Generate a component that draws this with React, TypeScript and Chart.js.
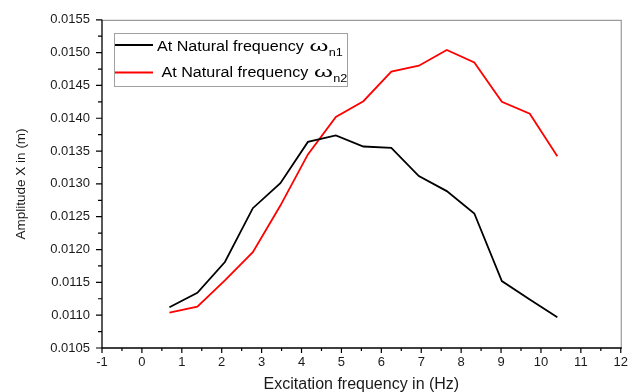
import React, { useEffect, useRef } from "react";
import { Chart, registerables } from "chart.js";

Chart.register(...registerables);

const frequencies = [0.69, 1.39, 2.08, 2.78, 3.47, 4.16, 4.86, 5.55, 6.25, 6.94, 7.64, 8.33, 9.02, 9.72, 10.41];
const amplitudeN1 = [0.01112, 0.01134, 0.01181, 0.01263, 0.01301, 0.01364, 0.01374, 0.01357, 0.01355, 0.01312, 0.01289, 0.01255, 0.01152, 0.01124, 0.01097];
const amplitudeN2 = [0.01104, 0.01113, 0.01153, 0.01196, 0.01267, 0.01345, 0.01402, 0.01426, 0.01471, 0.01480, 0.01504, 0.01485, 0.01425, 0.01407, 0.01342];
const seriesNames = ["At Natural frequency ", "At Natural frequency "];
const seriesSymbols = ["\u03c9", "\u03c9"];
const seriesSubscripts = ["n1", "n2"];
const seriesColors = ["#000000", "#ff0000"];
const xTickValues = [-1, 0, 1, 2, 3, 4, 5, 6, 7, 8, 9, 10, 11, 12];
const yTickValues = [0.0105, 0.011, 0.0115, 0.012, 0.0125, 0.013, 0.0135, 0.014, 0.0145, 0.015, 0.0155];
const xTitle = "Excitation frequency in (Hz)";
const yTitle = "Amplitude X in (m)";

const FONT = "'Liberation Sans', Arial, sans-serif";

const frameAndTicks = {
  id: "frameAndTicks",
  afterDraw(chart: any) {
    const ctx = chart.ctx;
    const { left, right, top, bottom } = chart.chartArea;
    const xs = chart.scales.x;
    const ys = chart.scales.y;
    ctx.save();
    ctx.strokeStyle = "#9a9a9a";
    ctx.lineWidth = 1.2;
    ctx.beginPath();
    ctx.moveTo(left, top + 0.5);
    ctx.lineTo(right + 0.5, top + 0.5);
    ctx.lineTo(right + 0.5, bottom);
    ctx.stroke();
    ctx.strokeStyle = "#000";
    ctx.lineWidth = 1.3;
    ctx.beginPath();
    ctx.moveTo(left, top);
    ctx.lineTo(left, bottom);
    ctx.lineTo(right + 1, bottom);
    ctx.stroke();
    ctx.lineWidth = 1.2;
    ctx.beginPath();
    for (let i = 0; i < xTickValues.length; i++) {
      const v = xTickValues[i];
      const px = xs.getPixelForValue(v);
      ctx.moveTo(px, bottom);
      ctx.lineTo(px, bottom + 5);
      if (i < xTickValues.length - 1) {
        const m = xs.getPixelForValue((v + xTickValues[i + 1]) / 2);
        ctx.moveTo(m, bottom);
        ctx.lineTo(m, bottom + 3);
      }
    }
    for (let i = 0; i < yTickValues.length; i++) {
      const v = yTickValues[i];
      const py = ys.getPixelForValue(v);
      ctx.moveTo(left, py);
      ctx.lineTo(left - 6, py);
      if (i < yTickValues.length - 1) {
        const m = ys.getPixelForValue((v + yTickValues[i + 1]) / 2);
        ctx.moveTo(left, m);
        ctx.lineTo(left - 4, m);
      }
    }
    ctx.stroke();
    ctx.restore();
  },
};

const subscriptLegend = {
  id: "subscriptLegend",
  afterDraw(chart: any) {
    const ctx = chart.ctx;
    ctx.save();
    const bx = 114, by = 33, bw = 233, bh = 53;
    ctx.strokeStyle = "#a0a0a0";
    ctx.lineWidth = 1;
    ctx.strokeRect(bx + 0.5, by + 0.5, bw, bh);
    const rows = [
      { lineY: 45, textX: 157, base: 51, subBase: 56 },
      { lineY: 72.5, textX: 161.5, base: 77, subBase: 82 },
    ];
    chart.data.datasets.forEach((ds: any, i: number) => {
      const r = rows[i];
      ctx.strokeStyle = ds.borderColor;
      ctx.lineWidth = 1.8;
      ctx.beginPath();
      ctx.moveTo(bx + 1, r.lineY);
      ctx.lineTo(bx + 39, r.lineY);
      ctx.stroke();
      ctx.fillStyle = "#000";
      ctx.textBaseline = "alphabetic";
      ctx.textAlign = "left";
      ctx.save();
      ctx.translate(r.textX, 0);
      ctx.scale(1.15, 1);
      ctx.font = `14px ${FONT}`;
      ctx.fillText(seriesNames[i], 0, r.base);
      const w = ctx.measureText(seriesNames[i]).width;
      ctx.save();
      ctx.translate(w + 1, 0);
      ctx.scale(1.5, 1);
      ctx.fillText(seriesSymbols[i], 0, r.base);
      const ow = ctx.measureText(seriesSymbols[i]).width * 1.5;
      ctx.restore();
      ctx.font = `11px ${FONT}`;
      ctx.fillText(seriesSubscripts[i], w + 1 + ow + 0.5, r.subBase);
      ctx.restore();
    });
    ctx.restore();
  },
};

export default function App() {
  const ref = useRef<HTMLCanvasElement>(null);
  useEffect(() => {
    if (!ref.current) return;
    const chart = new Chart(ref.current, {
      type: "line",
      data: {
        datasets: [
          {
            label: seriesNames[0] + seriesSymbols[0] + seriesSubscripts[0],
            data: frequencies.map((x, i) => ({ x, y: amplitudeN1[i] })),
            borderColor: seriesColors[0],
            backgroundColor: seriesColors[0],
            borderWidth: 1.8,
            pointRadius: 0,
            tension: 0,
          },
          {
            label: seriesNames[1] + seriesSymbols[1] + seriesSubscripts[1],
            data: frequencies.map((x, i) => ({ x, y: amplitudeN2[i] })),
            borderColor: seriesColors[1],
            backgroundColor: seriesColors[1],
            borderWidth: 1.8,
            pointRadius: 0,
            tension: 0,
          },
        ],
      },
      options: {
        animation: false,
        responsive: false,
        maintainAspectRatio: false,
        layout: { padding: { top: 18, right: 14, left: 0, bottom: 0 } },
        plugins: { legend: { display: false }, tooltip: { enabled: false } },
        scales: {
          x: {
            type: "linear",
            min: -1,
            max: 12,
            afterBuildTicks: (s: any) => {
              s.ticks = xTickValues.map((v) => ({ value: v }));
            },
            afterFit: (s: any) => {
              s.height = 44;
            },
            grid: { display: false, drawTicks: false },
            border: { display: false },
            ticks: {
              padding: 7,
              color: "#1a1a1a",
              font: { family: FONT, size: 13 },
              maxRotation: 0,
              autoSkip: false,
            },
            title: {
              display: true,
              text: xTitle,
              color: "#1a1a1a",
              font: { family: FONT, size: 16 },
              padding: { top: 0, bottom: -2 },
            },
          },
          y: {
            type: "linear",
            min: 0.0105,
            max: 0.0155,
            afterBuildTicks: (s: any) => {
              s.ticks = yTickValues.map((v) => ({ value: v }));
            },
            afterFit: (s: any) => {
              s.width = 102;
            },
            grid: { display: false, drawTicks: false },
            border: { display: false },
            ticks: {
              padding: 12,
              color: "#1a1a1a",
              font: { family: FONT, size: 13 },
              autoSkip: false,
              callback: (v: any) => Number(v).toFixed(4),
            },
            title: {
              display: true,
              text: yTitle,
              color: "#1a1a1a",
              font: { family: FONT, size: 13.5 },
              padding: { top: 13, bottom: 0 },
            },
          },
        },
      },
      plugins: [frameAndTicks, subscriptLegend],
    });
    return () => chart.destroy();
  }, []);
  return (
    <div style={{ position: "fixed", left: 0, top: 0, width: 635, height: 392, background: "#fff" }}>
      <canvas ref={ref} width={635} height={392} style={{ width: 635, height: 392 }} />
    </div>
  );
}
